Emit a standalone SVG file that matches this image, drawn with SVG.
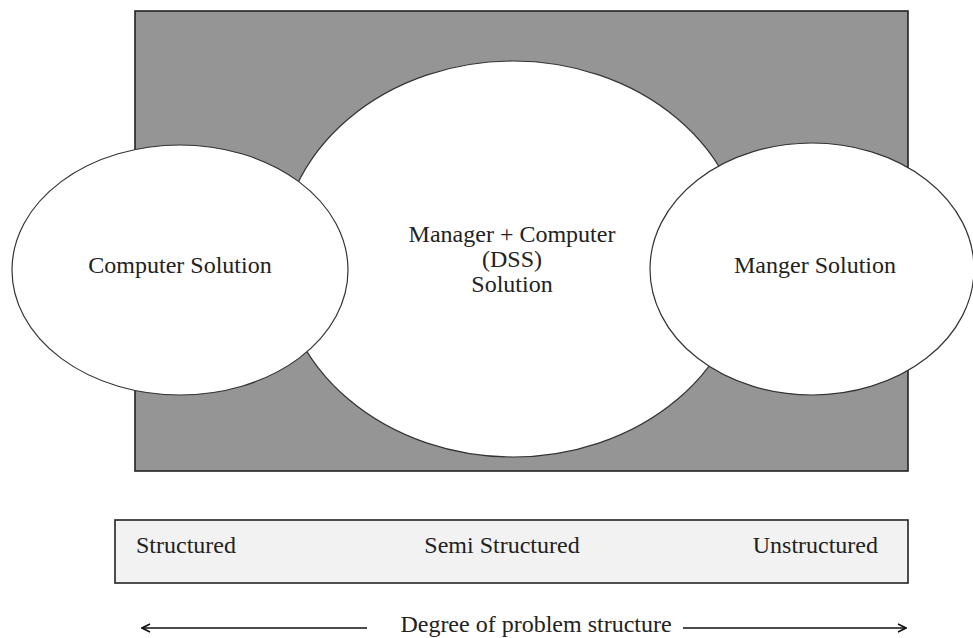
<svg xmlns="http://www.w3.org/2000/svg" width="973" height="638" viewBox="0 0 973 638">
  <style>
    .lbl { font-family: "Liberation Serif", "Times New Roman", serif; font-size: 24px; fill: #222; }
    .ell { fill: #ffffff; stroke: #333; stroke-width: 1.2; }
    .ln { stroke: #111; stroke-width: 1.6; fill: none; }
  </style>
  <defs>
    <marker id="arr" viewBox="0 0 10 10" refX="9" refY="5" markerWidth="10" markerHeight="10" markerUnits="userSpaceOnUse" orient="auto-start-reverse">
      <path d="M1,1 L9,5 L1,9" fill="none" stroke="#111" stroke-width="1.6"/>
    </marker>
  </defs>
  <rect width="973" height="638" fill="#ffffff"/>

  <g id="background-box">
    <rect x="135" y="11" width="773" height="460" fill="#959595" stroke="#222" stroke-width="1.6"/>
  </g>

  <g id="node-dss">
    <ellipse class="ell" cx="513" cy="259" rx="233" ry="198"/>
    <text class="lbl" x="512" y="242" text-anchor="middle">Manager + Computer</text>
    <text class="lbl" x="512" y="267" text-anchor="middle">(DSS)</text>
    <text class="lbl" x="512" y="292" text-anchor="middle">Solution</text>
  </g>

  <g id="node-computer">
    <ellipse class="ell" cx="180" cy="270" rx="168" ry="125"/>
    <text class="lbl" x="180" y="273" text-anchor="middle">Computer Solution</text>
  </g>

  <g id="node-manager">
    <ellipse class="ell" cx="812" cy="269" rx="162" ry="126"/>
    <text class="lbl" x="815" y="273" text-anchor="middle">Manger Solution</text>
  </g>

  <g id="scale-box">
    <rect x="115" y="520" width="793" height="63" fill="#f2f2f2" stroke="#222" stroke-width="1.6"/>
    <text class="lbl" x="136" y="553">Structured</text>
    <text class="lbl" x="502" y="553" text-anchor="middle">Semi Structured</text>
    <text class="lbl" x="878" y="553" text-anchor="end">Unstructured</text>
  </g>

  <g id="connectors">
    <line class="ln" x1="367" y1="628" x2="142" y2="628" marker-end="url(#arr)"/>
    <line class="ln" x1="683" y1="628" x2="906" y2="628" marker-end="url(#arr)"/>
  </g>

  <g id="axis-label">
    <text class="lbl" x="536" y="632" text-anchor="middle">Degree of problem structure</text>
  </g>
</svg>
